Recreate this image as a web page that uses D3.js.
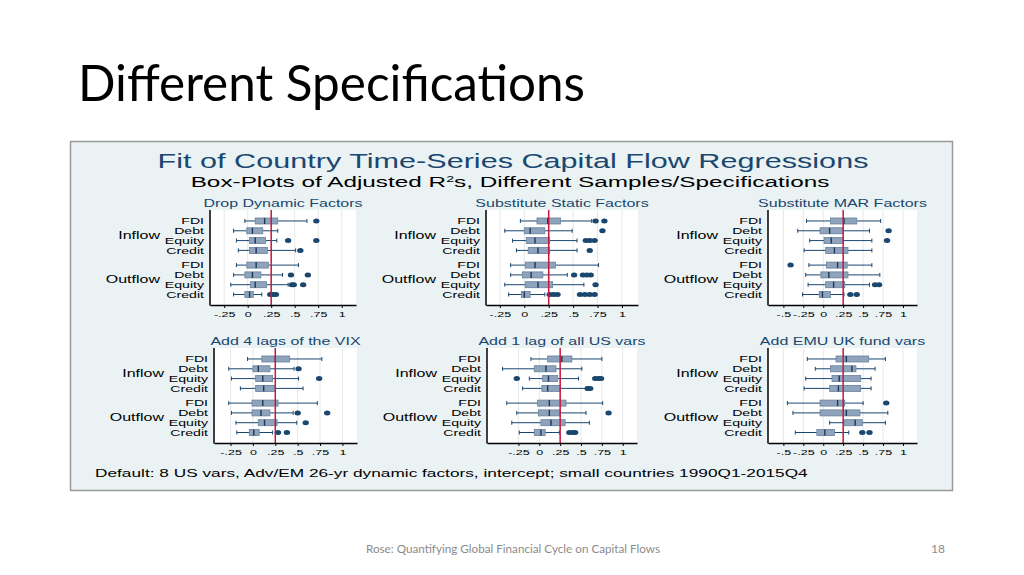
<!DOCTYPE html>
<html>
<head>
<meta charset="utf-8">
<title>Different Specifications</title>
<script src="https://cdn.jsdelivr.net/npm/d3@7"></script>
<style>
    body { margin: 0; background: #fff; }
    svg { display: block; }
    .stata text { font-family: "Liberation Sans", Arial, sans-serif; }
</style>
</head>
<body>
<svg id="slide" width="1024" height="575"></svg>

<script>
    // categories
    let rowNames = ["FDI", "Debt", "Equity", "Credit", "FDI", "Debt", "Equity", "Credit"];
    let rowGroups = ["Inflow", "Inflow", "Inflow", "Inflow", "Outflow", "Outflow", "Outflow", "Outflow"];
    let groupNames = ["Inflow", "Outflow"];
    let panelTitles = ["Drop Dynamic Factors", "Substitute Static Factors", "Substitute MAR Factors",
                       "Add 4 lags of the VIX", "Add 1 lag of all US vars", "Add EMU UK fund vars"];

    // tick labels
    let ticksShort = [-0.25, 0, 0.25, 0.5, 0.75, 1];
    let ticksShortLabels = ["-.25", "0", ".25", ".5", ".75", "1"];
    let ticksLong = [-0.5, -0.25, 0, 0.25, 0.5, 0.75, 1];
    let ticksLongLabels = ["-.5", "-.25", "0", ".25", ".5", ".75", "1"];
    let refValue = 0.25;

    // adjusted R2 box stats per row: [lower whisker, q1, median, q3, upper whisker, outliers]
    let dropDynamic = [
        [-0.03, 0.08, 0.18, 0.32, 0.63, [0.73]],
        [-0.15, -0.01, 0.05, 0.16, 0.32, []],
        [-0.12, 0.02, 0.08, 0.19, 0.31, [0.43, 0.73]],
        [-0.10, 0.02, 0.09, 0.21, 0.51, [0.56]],
        [-0.12, -0.01, 0.09, 0.22, 0.54, []],
        [-0.15, -0.03, 0.05, 0.14, 0.37, [0.46, 0.64]],
        [-0.18, 0.03, 0.08, 0.20, 0.43, [0.47, 0.49, 0.59]],
        [-0.15, -0.03, 0.02, 0.06, 0.15, [0.24, 0.27, 0.30]]
    ];
    let staticFactors = [
        [-0.04, 0.13, 0.24, 0.37, 0.69, [0.73, 0.82]],
        [-0.20, 0.00, 0.06, 0.21, 0.49, [0.80]],
        [-0.12, 0.02, 0.11, 0.26, 0.54, [0.63, 0.67, 0.72]],
        [-0.08, 0.04, 0.14, 0.26, 0.54, [0.67]],
        [-0.14, 0.01, 0.11, 0.32, 0.76, []],
        [-0.14, -0.02, 0.07, 0.19, 0.44, [0.51, 0.60, 0.64, 0.68]],
        [-0.20, 0.01, 0.14, 0.29, 0.61, [0.73]],
        [-0.16, -0.03, 0.00, 0.06, 0.21, [0.26, 0.30, 0.34, 0.57, 0.62, 0.67, 0.72]]
    ];
    let marFactors = [
        [-0.21, 0.09, 0.26, 0.42, 0.72, []],
        [-0.32, -0.04, 0.08, 0.25, 0.58, [0.82]],
        [-0.17, 0.01, 0.10, 0.25, 0.61, [0.80]],
        [-0.24, 0.03, 0.14, 0.31, 0.61, []],
        [-0.18, 0.04, 0.18, 0.30, 0.61, [-0.41]],
        [-0.22, -0.03, 0.07, 0.31, 0.71, []],
        [-0.19, 0.03, 0.13, 0.27, 0.58, [0.65, 0.70]],
        [-0.26, -0.05, -0.01, 0.09, 0.26, [0.34, 0.42]]
    ];
    let vixLags = [
        [-0.06, 0.10, 0.25, 0.41, 0.77, []],
        [-0.27, 0.00, 0.06, 0.19, 0.46, [0.51]],
        [-0.24, 0.03, 0.11, 0.22, 0.51, [0.74]],
        [-0.14, 0.03, 0.12, 0.25, 0.56, []],
        [-0.27, -0.01, 0.11, 0.28, 0.72, []],
        [-0.24, -0.01, 0.09, 0.19, 0.45, [0.50, 0.83]],
        [-0.19, 0.06, 0.13, 0.27, 0.49, [0.59]],
        [-0.18, -0.04, 0.01, 0.07, 0.22, [0.28, 0.38]]
    ];
    let usLags = [
        [-0.10, 0.10, 0.27, 0.39, 0.75, []],
        [-0.44, -0.06, 0.08, 0.20, 0.51, []],
        [-0.12, 0.04, 0.11, 0.22, 0.47, [-0.27, 0.67, 0.71, 0.74]],
        [-0.20, 0.03, 0.10, 0.25, 0.56, [0.58, 0.61]],
        [-0.39, -0.02, 0.12, 0.32, 0.76, []],
        [-0.27, -0.01, 0.12, 0.25, 0.56, [0.83]],
        [-0.33, 0.02, 0.14, 0.31, 0.60, []],
        [-0.24, -0.06, 0.02, 0.07, 0.24, [0.36, 0.40, 0.43]]
    ];
    let emuUk = [
        [-0.20, 0.16, 0.29, 0.57, 0.78, []],
        [-0.10, 0.09, 0.36, 0.41, 0.65, []],
        [-0.22, 0.11, 0.20, 0.47, 0.60, []],
        [-0.24, 0.08, 0.19, 0.47, 0.60, []],
        [-0.45, -0.04, 0.18, 0.27, 0.50, [0.79]],
        [-0.38, -0.04, 0.29, 0.46, 0.81, []],
        [0.08, 0.26, 0.40, 0.49, 0.78, []],
        [-0.35, -0.08, 0.02, 0.14, 0.32, [0.49, 0.58]]
    ];

    // layout: plot region left, right, top and x domain of each panel
    let panelStats = [dropDynamic, staticFactors, marFactors, vixLags, usLags, emuUk];
    let panelBoxes = [
        [210, 356, 210, [-0.401, 1.152]],
        [486, 638, 210, [-0.392, 1.164]],
        [768, 917, 210, [-0.693, 1.176]],
        [214, 357, 348, [-0.435, 1.163]],
        [487, 637, 348, [-0.627, 1.171]],
        [768, 917, 348, [-0.693, 1.176]]
    ];
    let panelTicks = [0, 0, 1, 0, 0, 1];

    const SX = 1.57;           // the Stata graph is stretched sideways
    const plotH = 95;
    const navy = "#1a476f";

    let svg = d3.select("#slide");

    // slide title and footer
    svg.append("text")
        .attr("x", 78).attr("y", 101)
        .attr("textLength", 507).attr("lengthAdjust", "spacingAndGlyphs")
        .style("font-family", "Lato, 'Open Sans', sans-serif")
        .style("font-size", "50px")
        .style("fill", "#000")
        .text("Different Specifications");

    svg.append("text")
        .attr("x", 513).attr("y", 553)
        .attr("text-anchor", "middle")
        .attr("textLength", 294).attr("lengthAdjust", "spacingAndGlyphs")
        .style("font-family", "Lato, 'Open Sans', sans-serif")
        .style("font-size", "12px")
        .style("fill", "#8b8b8b")
        .text("Rose: Quantifying Global Financial Cycle on Capital Flows");

    svg.append("text")
        .attr("x", 945).attr("y", 553)
        .attr("text-anchor", "end")
        .style("font-family", "Lato, 'Open Sans', sans-serif")
        .style("font-size", "12px")
        .style("fill", "#8b8b8b")
        .text("18");

    // graph frame
    let g = svg.append("g").attr("class", "stata");
    g.append("rect")
        .attr("x", 70.5).attr("y", 141.5)
        .attr("width", 882).attr("height", 349)
        .attr("fill", "#eaf2f3")
        .attr("stroke", "#9a9a9a")
        .attr("stroke-width", 1.5);

    function stext(parent, x, y, str, size, anchor, color) {
        return parent.append("text")
            .attr("transform", "translate(" + x + "," + y + ") scale(" + SX + ",1)")
            .attr("text-anchor", anchor)
            .style("font-size", size + "px")
            .style("fill", color || "#000")
            .text(str);
    }

    stext(g, 513, 168, "Fit of Country Time-Series Capital Flow Regressions", 19.5, "middle", navy);
    let sub = stext(g, 510, 187, "", 15.5, "middle");
    sub.append("tspan").text("Box-Plots of Adjusted R");
    sub.append("tspan").attr("baseline-shift", "super").style("font-size", "9px").text("2");
    sub.append("tspan").text("s, Different Samples/Specifications");
    stext(g, 95, 477, "Default: 8 US vars, Adv/EM 26-yr dynamic factors, intercept; small countries 1990Q1-2015Q4", 11, "start");

    // row position: outflow group shifted by half a row for the gap
    let rowPos = rowNames.map(function(d, i) {
        return i + (rowGroups[i] === "Outflow" ? 0.5 : 0);
    });

    function drawPanel(p) {
        let box = panelBoxes[p];
        let x0 = box[0], x1 = box[1], top = box[2];
        let stats = panelStats[p];
        let tv = panelTicks[p] ? ticksLong : ticksShort;
        let tl = panelTicks[p] ? ticksLongLabels : ticksShortLabels;

        let x = d3.scaleLinear().domain(box[3]).range([x0, x1]);
        let y = d3.scaleLinear().domain([-1.12, 8.57]).range([top, top + plotH]);

        let pg = g.append("g");

        pg.append("rect")
            .attr("x", x0).attr("y", top)
            .attr("width", x1 - x0).attr("height", plotH)
            .attr("fill", "#fff");

        pg.selectAll("line.grid").data(tv).enter().append("line")
            .attr("class", "grid")
            .attr("x1", d => x(d)).attr("x2", d => x(d))
            .attr("y1", top).attr("y2", top + plotH)
            .attr("stroke", "#e5e8ea").attr("stroke-width", 1);

        let rows = pg.selectAll("g.row").data(stats).enter().append("g")
            .attr("class", "row")
            .attr("transform", (d, i) => "translate(0," + y(rowPos[i]) + ")");

        // whiskers and caps
        rows.append("line")
            .attr("x1", d => x(d[0])).attr("x2", d => x(d[1]))
            .attr("stroke", navy).attr("stroke-width", 1);
        rows.append("line")
            .attr("x1", d => x(d[3])).attr("x2", d => x(d[4]))
            .attr("stroke", navy).attr("stroke-width", 1);
        rows.append("line")
            .attr("x1", d => x(d[0])).attr("x2", d => x(d[0]))
            .attr("y1", -2).attr("y2", 2)
            .attr("stroke", navy).attr("stroke-width", 1);
        rows.append("line")
            .attr("x1", d => x(d[4])).attr("x2", d => x(d[4]))
            .attr("y1", -2).attr("y2", 2)
            .attr("stroke", navy).attr("stroke-width", 1);

        rows.append("rect")
            .attr("x", d => x(d[1])).attr("y", -3)
            .attr("width", d => x(d[3]) - x(d[1])).attr("height", 6)
            .attr("fill", "#8fa4bc")
            .attr("stroke", "#66809d").attr("stroke-width", 0.8);

        rows.append("line")
            .attr("x1", d => x(d[2])).attr("x2", d => x(d[2]))
            .attr("y1", -3).attr("y2", 3)
            .attr("stroke", "#1c3757").attr("stroke-width", 1.4);

        rows.selectAll("ellipse").data(d => d[5]).enter().append("ellipse")
            .attr("cx", d => x(d)).attr("cy", 0)
            .attr("rx", 3.2).attr("ry", 2.5)
            .attr("fill", navy);

        // reference line
        pg.append("line")
            .attr("x1", x(refValue)).attr("x2", x(refValue))
            .attr("y1", top).attr("y2", top + plotH)
            .attr("stroke", "#c8173f").attr("stroke-width", 1.5);

        // axes
        let ax = pg.append("g")
            .attr("transform", "translate(0," + (top + plotH) + ")")
            .call(d3.axisBottom(x).tickValues(tv).tickFormat((d, i) => tl[i]).tickSize(3).tickSizeOuter(0));
        ax.select(".domain").attr("stroke", "#000").attr("stroke-width", 1.3);
        ax.selectAll(".tick line").attr("stroke", "#000");
        ax.selectAll("text")
            .attr("transform", "scale(" + SX + ",1)")
            .style("font-size", "8px")
            .style("font-family", "'Liberation Sans', Arial, sans-serif")
            .attr("fill", "#000");

        pg.append("line")
            .attr("x1", x0).attr("x2", x0)
            .attr("y1", top).attr("y2", top + plotH + 0.6)
            .attr("stroke", "#000").attr("stroke-width", 1.5);

        // labels
        rowNames.forEach(function(name, i) {
            stext(pg, x0 - 6, y(rowPos[i]) + 3.2, name, 9, "end");
        });
        groupNames.forEach(function(name, k) {
            stext(pg, x0 - 50, y(k === 0 ? 1.5 : 6) + 3.6, name, 10.2, "end");
        });
        stext(pg, (x0 + x1) / 2, top - 3, panelTitles[p], 10.2, "middle", navy);
    }

    for (let p = 0; p < panelTitles.length; p++) {
        drawPanel(p);
    }
</script>
</body>
</html>
